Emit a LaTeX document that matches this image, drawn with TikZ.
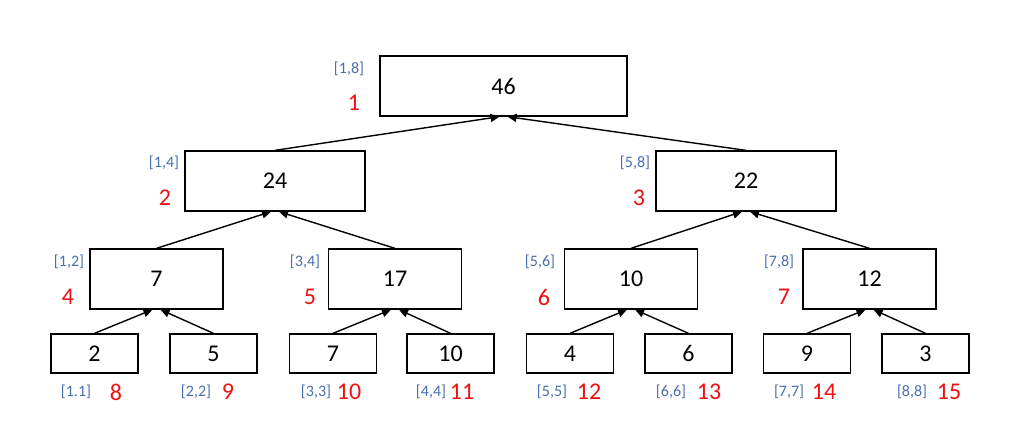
\documentclass[tikz,border=0pt]{standalone}
\usepackage{fontspec}
\setmainfont{Carlito}
\usetikzlibrary{arrows.meta}
\definecolor{rangeblue}{HTML}{4A6FAE}
\definecolor{idxred}{HTML}{EE1111}

\begin{document}
\begin{tikzpicture}[
    x=1pt, y=-1pt,
    >={Triangle[length=9pt,width=8pt]},
    flowline/.style={->, line width=1.4pt, draw=black},
    block/.style={
      draw=black,
      line width=1.3pt,
      inner sep=0pt,
      font=\fontsize{24}{26}\selectfont
    },
    sumbox/.style={block, minimum height=60pt},
    leaf/.style={block, minimum width=87pt, minimum height=39pt},
    rangelbl/.style={text=rangeblue, font=\fontsize{16}{18}\selectfont},
    idxlbl/.style={text=idxred, font=\fontsize{24}{26}\selectfont}
  ]
    \useasboundingbox (0,0) rectangle (1024,425);

    % segment tree nodes
    \node[sumbox, minimum width=247pt] (n1) at (503.5,86) {46};
    \node[sumbox, minimum width=180pt] (n2) at (275,181) {24};
    \node[sumbox, minimum width=180pt] (n3) at (746,181) {22};
    \node[sumbox, minimum width=133pt] (n4) at (156.5,279) {7};
    \node[sumbox, minimum width=133pt] (n5) at (395,279) {17};
    \node[sumbox, minimum width=133pt] (n6) at (631,279) {10};
    \node[sumbox, minimum width=133pt] (n7) at (869.5,279) {12};
    \node[leaf] (n8) at (94.5,353.5) {2};
    \node[leaf] (n9) at (213.5,353.5) {5};
    \node[leaf] (n10) at (333,353.5) {7};
    \node[leaf] (n11) at (450.5,353.5) {10};
    \node[leaf] (n12) at (570,353.5) {4};
    \node[leaf] (n13) at (688.5,353.5) {6};
    \node[leaf] (n14) at (807,353.5) {9};
    \node[leaf] (n15) at (925.5,353.5) {3};

    % ranges and indices
    \node[rangelbl] (r1) at (349,69) {[1,8]};
    \node[idxlbl] (i1) at (354,103) {1};
    \node[rangelbl] (r2) at (164,163) {[1,4]};
    \node[idxlbl] (i2) at (165,198) {2};
    \node[rangelbl] (r3) at (635,163) {[5,8]};
    \node[idxlbl] (i3) at (639,198) {3};
    \node[rangelbl] (r4) at (69,262) {[1,2]};
    \node[idxlbl] (i4) at (68,297) {4};
    \node[rangelbl] (r5) at (305,262) {[3,4]};
    \node[idxlbl] (i5) at (310,297) {5};
    \node[rangelbl] (r6) at (540,262) {[5,6]};
    \node[idxlbl] (i6) at (544,297) {6};
    \node[rangelbl] (r7) at (779,262) {[7,8]};
    \node[idxlbl] (i7) at (784,297) {7};
    \node[rangelbl] (r8) at (76,392) {[1.1]};
    \node[idxlbl] (i8) at (116,392) {8};
    \node[rangelbl] (r9) at (196,392) {[2,2]};
    \node[idxlbl] (i9) at (228,392) {9};
    \node[rangelbl] (r10) at (316,392) {[3,3]};
    \node[idxlbl] (i10) at (349,392) {10};
    \node[rangelbl] (r11) at (431,392) {[4,4]};
    \node[idxlbl] (i11) at (462,392) {11};
    \node[rangelbl] (r12) at (552,392) {[5,5]};
    \node[idxlbl] (i12) at (589,392) {12};
    \node[rangelbl] (r13) at (671,392) {[6,6]};
    \node[idxlbl] (i13) at (709,392) {13};
    \node[rangelbl] (r14) at (789,392) {[7,7]};
    \node[idxlbl] (i14) at (824,392) {14};
    \node[rangelbl] (r15) at (912,392) {[8,8]};
    \node[idxlbl] (i15) at (949,392) {15};

    % child to parent
    \draw[flowline] (n2.north) -- ([xshift=-4pt]n1.south);
    \draw[flowline] (n3.north) -- ([xshift=4pt]n1.south);
    \draw[flowline] (n4.north) -- ([xshift=-4pt]n2.south);
    \draw[flowline] (n5.north) -- ([xshift=4pt]n2.south);
    \draw[flowline] (n6.north) -- ([xshift=-4pt]n3.south);
    \draw[flowline] (n7.north) -- ([xshift=4pt]n3.south);
    \draw[flowline] (n8.north) -- ([xshift=-4pt]n4.south);
    \draw[flowline] (n9.north) -- ([xshift=4pt]n4.south);
    \draw[flowline] (n10.north) -- ([xshift=-4pt]n5.south);
    \draw[flowline] (n11.north) -- ([xshift=4pt]n5.south);
    \draw[flowline] (n12.north) -- ([xshift=-4pt]n6.south);
    \draw[flowline] (n13.north) -- ([xshift=4pt]n6.south);
    \draw[flowline] (n14.north) -- ([xshift=-4pt]n7.south);
    \draw[flowline] (n15.north) -- ([xshift=4pt]n7.south);
  \end{tikzpicture}
\end{document}
